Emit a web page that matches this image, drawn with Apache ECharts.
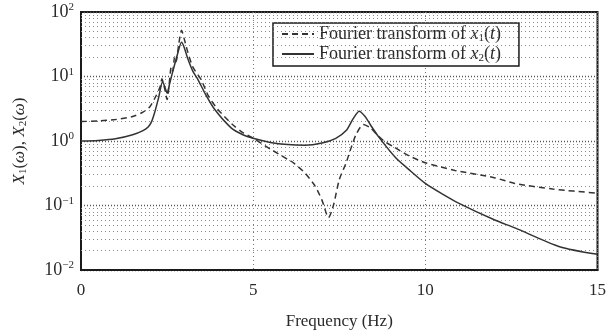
<!DOCTYPE html>
<html>
<head>
<meta charset="utf-8">
<script src="https://cdn.jsdelivr.net/npm/echarts@6/dist/echarts.min.js"></script>
<style>
  html, body { margin: 0; padding: 0; background: #fff; }
  #chart { width: 609px; height: 335px; }
</style>
</head>
<body>
<div id="chart"></div>
<script>
// frequency (Hz) / magnitude
const freq1 = [0, 0.5, 1.0, 1.5, 1.8, 2.0, 2.17, 2.3, 2.35, 2.43, 2.5, 2.56, 2.62, 2.66, 2.72, 2.76, 2.84, 2.92, 3.0, 3.1, 3.25, 3.49, 3.7, 3.97, 4.4, 4.7, 5.0, 5.5, 6.0, 6.19, 6.5, 6.8, 7.0, 7.19, 7.33, 7.5, 7.7, 7.85, 8.0, 8.2, 8.4, 8.6, 8.8, 9.1, 9.5, 10.0, 10.86, 12.0, 12.6, 13.7, 15.0];
const mag1 = [2.0, 2.05, 2.15, 2.4, 2.8, 3.4, 4.9, 7.0, 9.2, 6.5, 4.4, 7.5, 14, 12, 20, 17, 32, 52, 38, 24, 14, 8.9, 5.0, 3.1, 1.8, 1.35, 1.1, 0.75, 0.52, 0.45, 0.32, 0.2, 0.12, 0.065, 0.1, 0.25, 0.46, 0.8, 1.3, 1.8, 1.6, 1.25, 1.0, 0.8, 0.6, 0.46, 0.35, 0.27, 0.22, 0.18, 0.155];

const freq2 = [0, 0.5, 1.0, 1.5, 1.8, 1.95, 2.05, 2.15, 2.25, 2.37, 2.45, 2.5, 2.58, 2.7, 2.8, 2.92, 3.0, 3.1, 3.25, 3.4, 3.6, 3.88, 4.36, 4.7, 5.0, 5.5, 6.0, 6.5, 7.0, 7.4, 7.7, 7.9, 8.08, 8.25, 8.4, 8.65, 9.14, 9.5, 10.0, 10.5, 10.95, 12.0, 12.6, 13.9, 15.0];
const mag2 = [1.0, 1.02, 1.08, 1.25, 1.45, 1.65, 2.0, 2.9, 4.6, 8.3, 6.5, 5.5, 8, 14, 22, 34, 28, 19, 12, 8.9, 5.5, 3.1, 1.6, 1.25, 1.1, 0.95, 0.88, 0.86, 0.93, 1.1, 1.45, 2.2, 2.9, 2.4, 1.8, 1.15, 0.55, 0.37, 0.22, 0.15, 0.11, 0.06, 0.045, 0.023, 0.0175];

const seriesNames = ['Fourier transform of x1(t)', 'Fourier transform of x2(t)'];
const xTicks = [0, 5, 10, 15];
const yExponents = { 0.01: '−2', 0.1: '−1', 1: '0', 10: '1', 100: '2' };
// dotted minor grid of the log axis (2..9 in each decade)
const minorGrid = [0.02, 0.03, 0.04, 0.05, 0.06, 0.07, 0.08, 0.09, 0.2, 0.3, 0.4, 0.5, 0.6, 0.7, 0.8, 0.9, 2, 3, 4, 5, 6, 7, 8, 9, 20, 30, 40, 50, 60, 70, 80, 90];

const serif = '"Liberation Serif", "DejaVu Serif", serif';
const ink = '#2a2a2a';

const chart = echarts.init(document.getElementById('chart'), null, { renderer: 'canvas' });

function pairs(xs, ys) {
  return xs.map((x, i) => [x, ys[i]]);
}

const legendRich = {
  n: { fontFamily: serif, fontSize: 18, color: ink },
  i: { fontFamily: serif, fontSize: 18, fontStyle: 'italic', color: ink },
  s: { fontFamily: serif, fontSize: 11, color: ink, padding: [9, 0, 0, 0] }
};

chart.setOption({
  animation: false,
  backgroundColor: '#fff',
  grid: {
    left: 81, right: 6, top: 12, bottom: 61,
    show: true, borderColor: '#1a1a1a', borderWidth: 2, backgroundColor: 'transparent'
  },
  legend: {
    orient: 'vertical',
    left: 273, top: 23,
    padding: [2, 18, 2, 8],
    itemGap: 1,
    itemWidth: 32, itemHeight: 12,
    backgroundColor: '#fff',
    borderColor: '#1a1a1a', borderWidth: 1.5,
    itemStyle: { opacity: 0 },
    data: seriesNames,
    formatter: function (name) {
      const k = name.indexOf('x1') >= 0 ? '1' : '2';
      return '{n|Fourier transform of }{i|x}{s|' + k + '}{n|(}{i|t}{n|)}';
    },
    textStyle: { rich: legendRich }
  },
  xAxis: {
    type: 'value', min: 0, max: 15, interval: 5,
    name: 'Frequency (Hz)', nameLocation: 'middle', nameGap: 43,
    nameTextStyle: { fontFamily: serif, fontSize: 17, color: ink },
    axisLine: { show: true, lineStyle: { color: '#1a1a1a', width: 2 } },
    axisTick: { show: false },
    axisLabel: { fontFamily: serif, fontSize: 17, color: ink, margin: 12,
      formatter: v => xTicks.indexOf(v) >= 0 ? String(v) : '' },
    splitLine: { show: true, lineStyle: { color: '#777', type: [1, 3], width: 1 } }
  },
  yAxis: {
    type: 'log', logBase: 10, min: 0.01, max: 100,
    name: '{i|X}{s|1}{n|(}{i|ω}{n|), }{i|X}{s|2}{n|(}{i|ω}{n|)}',
    nameLocation: 'middle', nameGap: 52, nameRotate: 90,
    nameTextStyle: {
      rich: {
        n: { fontFamily: serif, fontSize: 17, color: ink },
        i: { fontFamily: serif, fontSize: 17, fontStyle: 'italic', color: ink },
        s: { fontFamily: serif, fontSize: 11, color: ink, padding: [8, 0, 0, 0] }
      }
    },
    axisLine: { show: true, lineStyle: { color: '#1a1a1a', width: 2 } },
    axisTick: { show: false },
    axisLabel: {
      margin: 7,
      formatter: function (v) {
        const key = Object.keys(yExponents).find(k => Math.abs(Number(k) - v) / v < 1e-6);
        return key ? '{b|10}{e|' + yExponents[key] + '}' : '';
      },
      rich: {
        b: { fontFamily: serif, fontSize: 18, color: ink },
        e: { fontFamily: serif, fontSize: 11, color: ink, padding: [0, 0, 9, 0] }
      }
    },
    splitLine: { show: true, lineStyle: { color: '#555', type: [1, 2], width: 1.4 } }
  },
  series: [
    {
      name: seriesNames[0],
      type: 'line',
      data: pairs(freq1, mag1),
      showSymbol: false, symbol: 'none',
      smooth: 0.25,
      lineStyle: { color: '#333', width: 1.5, type: [6, 4] },
      itemStyle: { color: '#333' },
      z: 5,
      markLine: {
        silent: true, symbol: 'none', animation: false,
        label: { show: false },
        lineStyle: { color: '#8a8a8a', type: [1, 3], width: 1 },
        data: minorGrid.map(v => ({ yAxis: v }))
      }
    },
    {
      name: seriesNames[1],
      type: 'line',
      data: pairs(freq2, mag2),
      showSymbol: false, symbol: 'none',
      smooth: 0.25,
      lineStyle: { color: '#333', width: 1.5, type: 'solid' },
      itemStyle: { color: '#333' },
      z: 5
    }
  ]
});
</script>
</body>
</html>
